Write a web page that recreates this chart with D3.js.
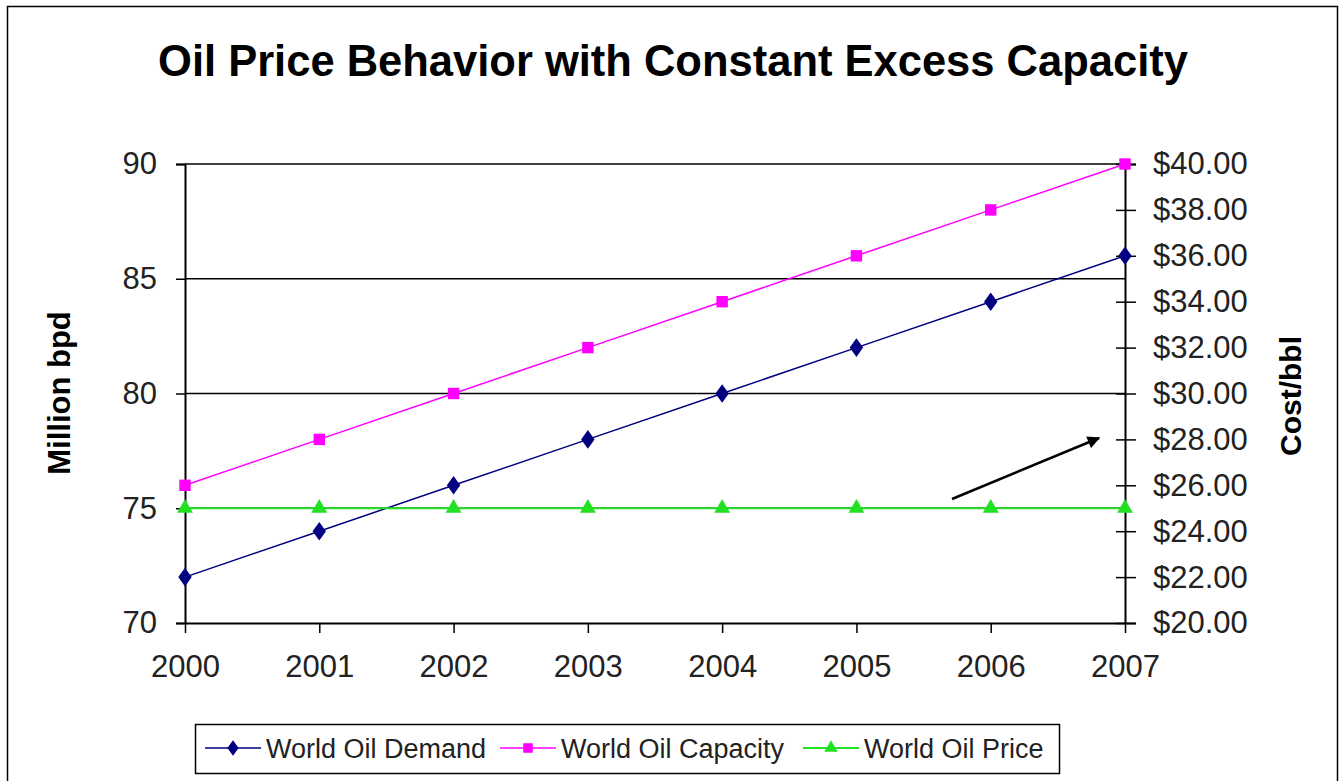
<!DOCTYPE html>
<html>
<head>
<meta charset="utf-8">
<script src="https://cdn.jsdelivr.net/npm/d3@7"></script>
<style>
  html, body { margin: 0; padding: 0; background: #fff; }
  svg { display: block; font-family: Arial, "Liberation Sans", sans-serif; }
</style>
</head>
<body>
<svg id="chart" width="1341" height="781"></svg>
<script>
// Chart data
const years = [2000, 2001, 2002, 2003, 2004, 2005, 2006, 2007];
const demand = [72, 74, 76, 78, 80, 82, 84, 86];          // million bpd
const capacity = [76, 78, 80, 82, 84, 86, 88, 90];        // million bpd
const price = [25, 25, 25, 25, 25, 25, 25, 25];           // $/bbl
const leftTicks = [70, 75, 80, 85, 90];
const rightTicks = [20, 22, 24, 26, 28, 30, 32, 34, 36, 38, 40];
const seriesNames = ["World Oil Demand", "World Oil Capacity", "World Oil Price"];

const svg = d3.select("#chart");
const plot = { left: 185, right: 1125, top: 164, bottom: 623 };
const FONT = "Arial, 'Liberation Sans', sans-serif";

// Outer frame
svg.append("rect")
  .attr("x", 7.5).attr("y", 6.5)
  .attr("width", 1330).attr("height", 790)
  .attr("fill", "#fff").attr("stroke", "#000").attr("stroke-width", 1.5);

// Title
svg.append("text")
  .attr("x", 673).attr("y", 76)
  .attr("text-anchor", "middle")
  .attr("font-size", 43.5).attr("font-weight", "bold")
  .text("Oil Price Behavior with Constant Excess Capacity");

// Scales
const x = d3.scalePoint().domain(years).range([plot.left, plot.right]);
const yL = d3.scaleLinear().domain([70, 90]).range([plot.bottom, plot.top]);
const yR = d3.scaleLinear().domain([20, 40]).range([plot.bottom, plot.top]);

// Horizontal gridlines
svg.append("g")
  .selectAll("line").data(leftTicks.slice(1)).join("line")
  .attr("x1", plot.left).attr("x2", plot.right)
  .attr("y1", d => yL(d)).attr("y2", d => yL(d))
  .attr("stroke", "#000").attr("stroke-width", 1.5);

// Left axis
const leftAxis = svg.append("g")
  .attr("transform", `translate(${plot.left},0)`)
  .call(d3.axisLeft(yL).tickValues(leftTicks).tickSize(9).tickPadding(19).tickFormat(d3.format("d")));
leftAxis.select(".domain").attr("stroke-width", 2);
leftAxis.selectAll(".tick line").attr("stroke-width", 1.5);
leftAxis.selectAll("text").attr("font-size", 31).attr("fill", "#222").attr("font-family", FONT);

// Right axis (ticks cross the axis line)
const rightAxis = svg.append("g")
  .attr("transform", `translate(${plot.right},0)`)
  .call(d3.axisRight(yR).tickValues(rightTicks).tickSize(11).tickPadding(17).tickFormat(d => "$" + d3.format(".2f")(d)));
rightAxis.select(".domain").attr("stroke-width", 2);
rightAxis.selectAll(".tick line").attr("x1", -9).attr("stroke-width", 1.5);
rightAxis.selectAll("text").attr("font-size", 31).attr("fill", "#222").attr("font-family", FONT);

// Bottom axis
const bottomAxis = svg.append("g")
  .attr("transform", `translate(0,${plot.bottom})`)
  .call(d3.axisBottom(x).tickSize(10).tickPadding(22).tickSizeOuter(0));
bottomAxis.select(".domain").attr("stroke-width", 2);
bottomAxis.selectAll(".tick line").attr("stroke-width", 1.5);
bottomAxis.selectAll("text").attr("font-size", 31).attr("fill", "#222").attr("font-family", FONT);

// Axis titles
svg.append("text")
  .attr("transform", "translate(70,393) rotate(-90)")
  .attr("text-anchor", "middle")
  .attr("font-size", 31).attr("font-weight", "bold")
  .text("Million bpd");
svg.append("text")
  .attr("transform", "translate(1301,396) rotate(-90)")
  .attr("text-anchor", "middle")
  .attr("font-size", 30).attr("font-weight", "bold")
  .text("Cost/bbl");

// Series definitions
const series = [
  { name: seriesNames[0], values: demand, y: yL, color: "#000080", symbol: d3.symbolDiamond, size: 100, lw: 1.5 },
  { name: seriesNames[1], values: capacity, y: yL, color: "#ff00ff", symbol: d3.symbolSquare, size: 130, lw: 1.5 },
  { name: seriesNames[2], values: price, y: yR, color: "#22e022", symbol: d3.symbolTriangle, size: 110, lw: 2 }
];

const line = (s) => d3.line().x((d, i) => x(years[i])).y(d => s.y(d));
const markerScale = (s) => s.symbol === d3.symbolDiamond ? " scale(1.25,1)" : "";

series.forEach(s => {
  const g = svg.append("g");
  g.append("path")
    .datum(s.values)
    .attr("d", line(s))
    .attr("fill", "none")
    .attr("stroke", s.color)
    .attr("stroke-width", s.lw);
  g.selectAll("path.marker").data(s.values).join("path")
    .attr("class", "marker")
    .attr("transform", (d, i) => `translate(${x(years[i])},${s.y(d)})${markerScale(s)}`)
    .attr("d", d3.symbol().type(s.symbol).size(s.size))
    .attr("fill", s.color);
});

// Arrow annotation
const defs = svg.append("defs");
defs.append("marker")
  .attr("id", "arrowhead")
  .attr("viewBox", "0 0 10 10")
  .attr("refX", 9).attr("refY", 5)
  .attr("markerWidth", 6).attr("markerHeight", 5)
  .attr("markerUnits", "strokeWidth")
  .attr("orient", "auto")
  .append("path").attr("d", "M0,0 L10,5 L0,10 z").attr("fill", "#000");
svg.append("line")
  .attr("x1", 952).attr("y1", 499)
  .attr("x2", 1099).attr("y2", 438)
  .attr("stroke", "#000").attr("stroke-width", 2.5)
  .attr("marker-end", "url(#arrowhead)");

// Legend
const legend = svg.append("g");
legend.append("rect")
  .attr("x", 195.5).attr("y", 724.5)
  .attr("width", 864).attr("height", 49)
  .attr("fill", "#fff").attr("stroke", "#000").attr("stroke-width", 1.5);

const legendX = [205, 500, 803];
series.forEach((s, i) => {
  const gx = legendX[i], gy = 748;
  const item = legend.append("g").attr("transform", `translate(${gx},${gy})`);
  item.append("line").attr("x1", 0).attr("x2", 56).attr("y1", 0).attr("y2", 0)
    .attr("stroke", s.color).attr("stroke-width", s.lw);
  item.append("path")
    .attr("transform", `translate(28,0)${markerScale(s)}`)
    .attr("d", d3.symbol().type(s.symbol).size(s.size * 0.7))
    .attr("fill", s.color);
  item.append("text")
    .attr("x", 61).attr("y", 10)
    .attr("font-size", 27).attr("fill", "#222")
    .text(s.name);
});
</script>
</body>
</html>
